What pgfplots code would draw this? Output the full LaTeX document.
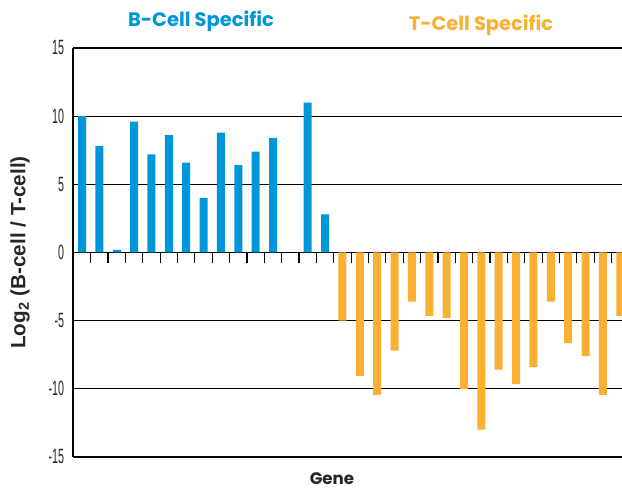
\documentclass[border=0pt]{standalone}
\usepackage{pgfplots}
\pgfplotsset{compat=1.18}
\usepackage{graphicx}
\usepackage{fontspec}
\setmainfont{Liberation Sans}
\newfontfamily\titlefont{Poppins}
\newcommand\tl[1]{\scalebox{0.52}[1]{\fontsize{15.5}{17}\selectfont #1}}
\definecolor{bblue}{RGB}{0,150,218}
\definecolor{torange}{RGB}{251,176,52}
\definecolor{gline}{RGB}{128,128,128}
\begin{document}
\begin{tikzpicture}
\begin{axis}[
  scale only axis,
  width=411.75pt, height=306.75pt,
  xmin=-0.52, xmax=31.1,
  ymin=-15, ymax=15,
  axis x line*=middle,
  axis y line*=left,
  axis line style={black, line width=1pt},
  xtick={0.5,1.5,...,30.5},
  xticklabels={},
  xtick align=outside,
  x tick style={black, line width=0.9pt, /pgfplots/major tick length=8.25pt},
  ytick={0,5,10},
  yticklabels={\tl{0},\tl{5},\tl{10}},
  extra y ticks={-15,-10,-5,15},
  extra y tick labels={\tl{-15},\tl{-10},\tl{-5},\tl{15}},
  extra y tick style={grid style={gline, line width=1.4pt}},
  ymajorgrids,
  major grid style={black, line width=0.8pt},
  y tick style={draw=none},
  yticklabel style={color=black!85, anchor=east, inner sep=0pt, xshift=-6.5pt},
  clip=true,
]
\addplot[ybar, bar width=6pt, fill=bblue, draw=none] coordinates {
 (0,10.0) (1,7.8) (2,0.2) (3,9.6) (4,7.2) (5,8.6) (6,6.6) (7,4.0)
 (8,8.8) (9,6.4) (10,7.4) (11,8.4) (13,11.0) (14,2.8)
};
\addplot[ybar, bar width=6pt, fill=torange, draw=none] coordinates {
 (15,-5.0) (16,-9.05) (17,-10.45) (18,-7.2) (19,-3.6) (20,-4.65) (21,-4.8)
 (22,-10.0) (23,-13.0) (24,-8.6) (25,-9.65) (26,-8.4) (27,-3.6) (28,-6.65)
 (29,-7.6) (30,-10.45) (31,-4.65)
};
\coordinate (sw) at (rel axis cs:0,0);
\coordinate (nw) at (rel axis cs:0,1);
\coordinate (ne) at (rel axis cs:1,1);
\end{axis}
\node[font=\titlefont\bfseries\fontsize{14.6}{16}\selectfont, text=bblue] at ([xshift=96pt,yshift=20.25pt]nw) {B-Cell Specific};
\node[font=\titlefont\bfseries\fontsize{14.6}{16}\selectfont, text=torange] at ([xshift=306pt,yshift=17.25pt]nw) {T-Cell Specific};
\node[font=\titlefont\bfseries\fontsize{12.5}{14}\selectfont, text=black!85, inner sep=0pt] at ([xshift=194.25pt,yshift=-16.5pt]sw) {Gene};
\node[font=\bfseries\fontsize{15.5}{17}\selectfont, text=black!85, rotate=90] at ([xshift=-39.75pt,yshift=153.4pt]sw) {Log\textsubscript{2} (B-cell / T-cell)};
\pgfresetboundingbox
\path ([xshift=-54.75pt,yshift=-24.75pt]sw) rectangle ([yshift=36pt]ne);
\end{tikzpicture}
\end{document}
